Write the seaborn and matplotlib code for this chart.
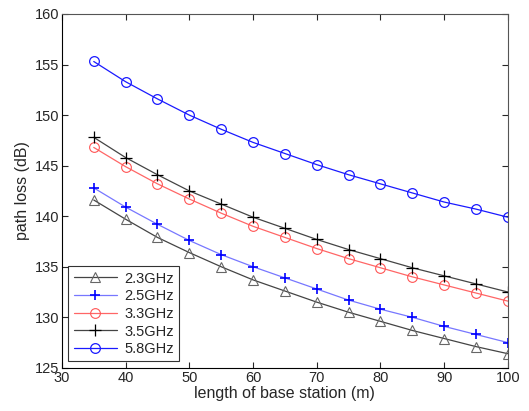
import matplotlib
matplotlib.use("Agg")
import matplotlib.pyplot as plt
import seaborn as sns
import pandas as pd

distance = [35, 40, 45, 50, 55, 60, 65, 70, 75, 80, 85, 90, 95, 100]
loss_2_3 = [141.6, 139.7, 137.9, 136.4, 135.0, 133.7, 132.6, 131.5, 130.5, 129.6, 128.7, 127.9, 127.1, 126.4]
loss_2_5 = [142.8, 140.9, 139.2, 137.6, 136.2, 135.0, 133.9, 132.8, 131.7, 130.8, 130.0, 129.1, 128.3, 127.5]
loss_3_3 = [146.8, 144.9, 143.2, 141.7, 140.3, 139.0, 137.9, 136.8, 135.8, 134.9, 134.0, 133.2, 132.4, 131.6]
loss_3_5 = [147.8, 145.8, 144.1, 142.5, 141.2, 139.9, 138.8, 137.7, 136.7, 135.8, 134.9, 134.1, 133.3, 132.5]
loss_5_8 = [155.3, 153.3, 151.6, 150.0, 148.6, 147.3, 146.2, 145.1, 144.1, 143.2, 142.3, 141.4, 140.7, 139.9]
labels = ["2.3GHz", "2.5GHz", "3.3GHz", "3.5GHz", "5.8GHz"]
x_ticks = [30, 40, 50, 60, 70, 80, 90, 100]
y_ticks = [125, 130, 135, 140, 145, 150, 155, 160]

series = [loss_2_3, loss_2_5, loss_3_3, loss_3_5, loss_5_8]
df = pd.concat(
    [pd.DataFrame({"distance": distance, "loss": s, "band": lab}) for s, lab in zip(series, labels)],
    ignore_index=True,
)

sns.set_style("ticks")
plt.rcParams["font.family"] = ["Liberation Sans", "DejaVu Sans"]
plt.rcParams["xtick.direction"] = "in"
plt.rcParams["ytick.direction"] = "in"

fig = plt.figure(figsize=(5.29, 4.11), dpi=100)
ax = fig.add_axes([0.117, 0.105, 0.843, 0.861])

styles = {
    "2.3GHz": dict(line="#444444", mk="#666666", marker="^", ms=7, mfc="none", mew=0.8),
    "2.5GHz": dict(line="#7777ff", mk="#0000ff", marker="+", ms=7.5, mfc="none", mew=1.2),
    "3.3GHz": dict(line="#ff6666", mk="#ff5555", marker="o", ms=7, mfc="none", mew=0.8),
    "3.5GHz": dict(line="#444444", mk="#000000", marker="+", ms=9, mfc="none", mew=0.9),
    "5.8GHz": dict(line="#1a1aff", mk="#1a1aff", marker="o", ms=7, mfc="none", mew=0.9),
}

for lab in labels:
    st = styles[lab]
    sns.lineplot(
        data=df[df["band"] == lab], x="distance", y="loss", ax=ax,
        color=st["line"], linewidth=0.9, marker=st["marker"], markersize=st["ms"],
        markerfacecolor=st["mfc"], markeredgecolor=st["mk"], markeredgewidth=st["mew"],
        label=lab,
    )

ax.set_xlim(30, 100)
ax.set_ylim(125, 160)
ax.set_xticks(x_ticks)
ax.set_yticks(y_ticks)
ax.tick_params(axis="both", which="both", top=True, right=True, labelsize=10.5,
               length=4, width=0.8, pad=2)
for sp in ax.spines.values():
    sp.set_linewidth(0.8)
    sp.set_color("#555555")
ax.spines["left"].set_color("#000000")
ax.spines["bottom"].set_color("#000000")

ax.set_xlabel("length of base station (m)", fontsize=11.5, labelpad=1)
ax.set_ylabel("path loss (dB)", fontsize=11.5, labelpad=3)

leg = ax.legend(loc="lower left", fontsize=10.5, frameon=True, fancybox=False,
                handlelength=3.0, borderpad=0.35, labelspacing=0.25,
                borderaxespad=0.45, handletextpad=0.5)
leg.get_frame().set_edgecolor("#000000")
leg.get_frame().set_linewidth(0.8)

fig.savefig("out.png", dpi=100)
